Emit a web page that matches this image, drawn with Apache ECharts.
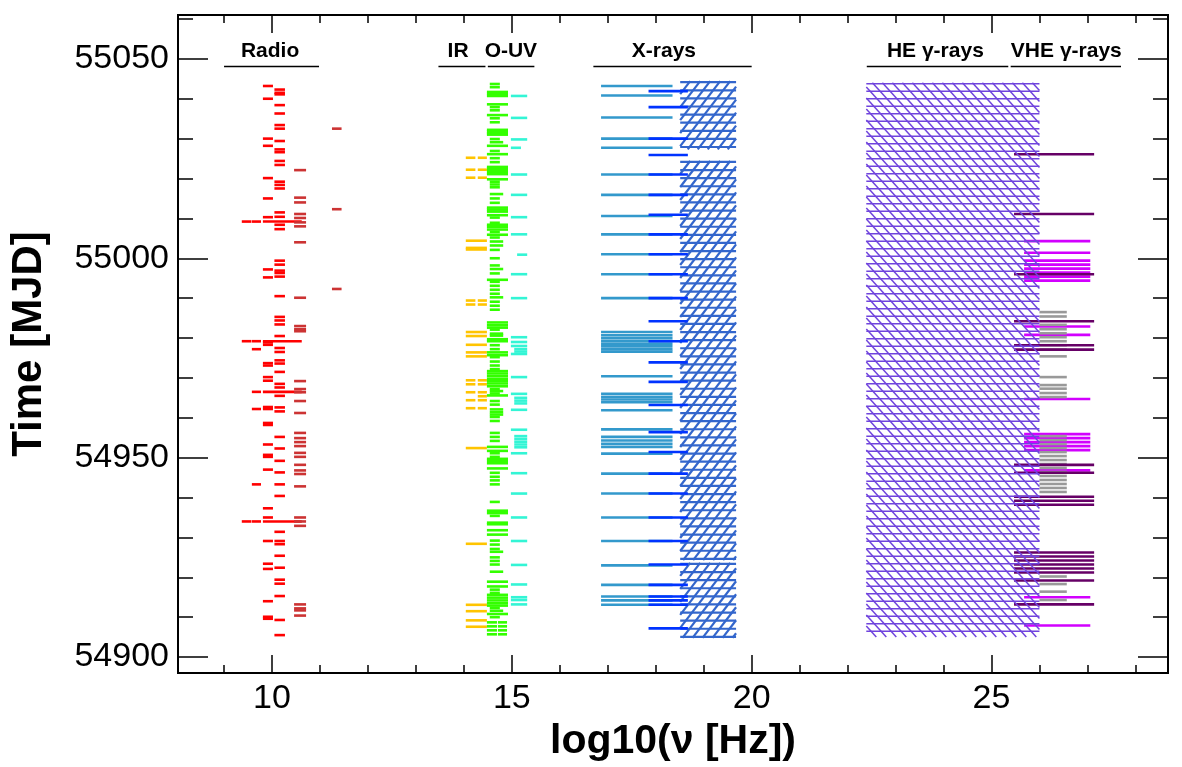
<!DOCTYPE html>
<html>
<head>
<meta charset="utf-8">
<title>MWL time coverage</title>
<script src="https://cdn.jsdelivr.net/npm/echarts@6/dist/echarts.min.js"></script>
<style>
  html, body { margin: 0; padding: 0; background: #fff; }
  #chart { width: 1182px; height: 767px; }
</style>
</head>
<body>
<div id="chart"></div>
<script>
// axis ranges and ticks
const X_MIN = 8.04, X_MAX = 28.68;
const Y_MIN = 54896, Y_MAX = 55061;
const X_MAJOR = [10, 15, 20, 25];
const X_MINOR = [9, 11, 12, 13, 14, 16, 17, 18, 19, 21, 22, 23, 24, 26, 27, 28];
const Y_MAJOR = [54900, 54950, 55000, 55050];
const Y_MINOR = [54910, 54920, 54930, 54940, 54960, 54970, 54980, 54990,
                 55010, 55020, 55030, 55040, 55060];

// band labels over the plot (log10 nu)
const BAND_NAMES = ['Radio', 'IR', 'O-UV', 'X-rays', 'HE γ-rays', 'VHE γ-rays'];
const BAND_FROM  = [9.0, 13.47, 14.5, 16.7, 22.4, 25.4];
const BAND_TO    = [10.98, 14.45, 15.47, 20.0, 25.35, 27.7];
const BAND_TEXT  = [9.96, 13.88, 14.98, 18.17, 23.83, 26.56];
const LABEL_MJD = 55048.1;

// frequency coverage of each instrument column (log10 nu)
const R_RADIO_A = [9.37, 9.57];
const R_RADIO_B = [9.58, 9.77];
const R_RADIO_C = [9.81, 10.02];
const R_RADIO_D = [10.05, 10.27];
const R_RADIO_LONG = [9.81, 10.62];
const R_RADIO_E = [10.46, 10.71];
const R_RADIO_F = [11.25, 11.45];
const R_IR_L = [14.04, 14.24];
const R_IR_R = [14.29, 14.48];
const R_IR_LONG = [14.04, 14.48];
const R_OPT_SHORT = [14.54, 14.75];
const R_OPT_MID = [14.54, 14.82];
const R_OPT_LONG = [14.48, 14.92];
const R_OPT_DL = [14.48, 14.69];
const R_OPT_DR = [14.71, 14.90];
const R_UV = [14.98, 15.32];
const R_UV_BLOCK = [15.05, 15.32];
const R_UV_L = [14.98, 15.19];
const R_UV_R = [15.11, 15.32];
const R_XRT = [16.86, 18.35];
const R_XB = [17.85, 18.67];
const R_XHATCH = [18.51, 19.675];
const R_HE = [22.39, 26.0];
const R_VHE_DARK = [25.47, 27.14];
const R_VHE_MAG = [25.68, 27.06];
const R_VHE_GRAY = [26.0, 26.57];

// observation dates (MJD)
const radioA = [55009.2, 54979.2, 54934.0];
const radioB = [55009.2, 54979.2, 54977.2, 54966.5, 54962.2, 54943.3, 54934.0];
const radioC = [55043.2, 55040.0, 55030.0, 55028.2, 55020.1, 55015.0, 55010.3, 54997.2, 54995.2,
  54978.9, 54978.3, 54973.7, 54973.1, 54970.2, 54969.3, 54962.7, 54962.2, 54958.7, 54958.2,
  54953.3, 54950.7, 54950.2, 54947.0, 54937.3, 54935.0, 54929.1, 54923.4, 54922.1, 54914.0,
  54910.1, 54909.6];
const radioD = [55042.3, 55041.5, 55041.1, 55038.4, 55036.3, 55033.4, 55032.5, 55029.4, 55027.3,
  55026.6, 55024.4, 55023.4, 55019.2, 55018.4, 55017.5, 55011.5, 55010.4, 55008.4, 55007.3,
  54999.4, 54998.4, 54996.9, 54996.3, 54995.4, 54990.5, 54985.3, 54984.4, 54983.4, 54980.5,
  54977.5, 54976.5, 54974.4, 54973.6, 54971.5, 54968.5, 54967.6, 54965.5, 54962.6, 54961.6,
  54955.2, 54952.3, 54949.2, 54946.3, 54943.3, 54940.4, 54931.4, 54929.1, 54928.3, 54925.4,
  54922.4, 54919.4, 54918.4, 54915.3, 54909.3, 54905.5];
const radioLong = [55009.2, 54979.2, 54966.5, 54934.0];
const radioE = [55022.1, 55015.2, 55014.0, 55011.1, 55010.1, 55009.0, 55008.0, 55004.0, 54990.1,
  54983.0, 54982.2, 54981.7, 54969.2, 54967.2, 54966.4, 54964.2, 54961.2, 54956.2, 54954.9,
  54953.9, 54952.9, 54951.2, 54950.2, 54948.2, 54946.8, 54945.9, 54942.8, 54935.0, 54934.0,
  54932.9, 54913.2, 54912.2, 54911.7, 54910.4];
const radioF = [55032.5, 55012.3, 54992.3];

const irSplit = [55025.2, 55022.2, 55020.2, 54989.4, 54988.4, 54969.4, 54968.4, 54966.4, 54964.4, 54962.4];
const irRight = [54965.4];
const irLong = [55004.4, 55002.6, 55002.2, 54981.5, 54980.5, 54978.3, 54976.4, 54975.4, 54952.4,
  54928.4, 54913.1, 54911.5, 54909.2, 54907.6];

const optShort = [55043.7, 55042.9, 55037.9, 55037.1, 55035.1, 55034.1, 55029.9, 55026.9, 55025.1,
  55024.1, 55019.2, 55018.5, 55017.8, 55015.0, 55013.9, 55010.2, 55008.9, 55006.6, 55005.2,
  55002.1, 55000.0, 54998.2, 54996.2, 54994.1, 54993.1, 54992.1, 54991.1, 54989.1, 54988.1,
  54987.1, 54982.1, 54978.2, 54977.2, 54975.2, 54974.1, 54973.1, 54972.2, 54967.2, 54966.1,
  54964.2, 54963.3, 54960.2, 54959.2, 54956.2, 54955.2, 54954.2, 54951.1, 54950.2, 54946.2,
  54945.2, 54944.3, 54943.3, 54938.9, 54935.4, 54929.2, 54928.2, 54927.1, 54925.0, 54924.1,
  54923.2, 54916.9, 54916.1, 54912.3, 54910.0];
const optMid = [55029.1, 55016.1, 55004.2, 55003.2, 54997.3, 54990.2, 54981.1, 54980.6, 54966.7,
  54962.1, 54961.4, 54960.8, 54926.4, 54921.4, 54911.6];
const optLong = [55041.7, 55041.2, 55040.7, 55038.6, 55035.9, 55032.2, 55031.8, 55031.4, 55031.0,
  55028.2, 55026.1, 55022.9, 55022.5, 55022.1, 55021.6, 55021.1, 55019.8, 55012.7, 55012.2,
  55011.7, 55010.8, 55008.4, 55007.9, 55007.2, 55005.9, 54994.6, 54983.9, 54983.2, 54982.6,
  54979.7, 54979.2, 54976.4, 54975.7, 54971.7, 54971.1, 54970.4, 54969.7, 54969.2, 54968.6,
  54967.9, 54965.6, 54952.7, 54951.7, 54949.7, 54949.2, 54948.6, 54947.3, 54936.7, 54936.1,
  54933.7, 54933.3, 54931.8, 54930.7, 54918.9, 54917.7, 54915.6, 54914.9, 54914.2, 54913.5,
  54912.9, 54910.8];
const optDouble = [54908.7, 54907.7, 54906.7, 54905.7];

const uvWide = [55040.7, 55035.2, 55029.8, 55021.0, 55015.9, 55010.3, 55006.0, 54996.0, 54990.0,
  54980.2, 54979.0, 54978.0, 54976.0, 54970.2, 54966.0, 54962.0, 54957.0, 54951.1, 54946.1,
  54941.0, 54935.0, 54929.1, 54923.1, 54918.2, 54915.0, 54914.3, 54913.2];
const uvBlock = [54977.2, 54976.6, 54965.0, 54964.3, 54963.6, 54955.4, 54954.7, 54954.0, 54953.3, 54952.6];
const uvLeft = [55027.7];
const uvRight = [55000.9];

const xrtDates = [55043.2, 55040.8, 55035.3, 55030.0, 55027.7, 55021.0, 55015.9, 55010.6, 55006.0,
  55001.0, 54996.0, 54990.0, 54981.5, 54980.7, 54980.0, 54979.3, 54978.6, 54977.9, 54977.2,
  54976.6, 54970.4, 54966.0, 54965.2, 54964.6, 54963.9, 54961.9, 54957.1, 54955.2, 54954.3,
  54953.5, 54952.7, 54951.0, 54946.0, 54941.0, 54935.0, 54929.1, 54923.0, 54918.1, 54915.2,
  54914.2, 54913.1];
const xBlueDates = [55041.9, 55037.9, 55030.0, 55025.9, 55021.0, 55015.9, 55010.9, 55006.0, 55001.0,
  54996.0, 54990.0, 54984.2, 54979.2, 54973.9, 54969.0, 54963.2, 54956.4, 54951.4, 54946.0,
  54941.0, 54935.0, 54929.1, 54923.2, 54918.1, 54915.2, 54914.2, 54913.1, 54907.2];
// continuous monitoring intervals [start, end]
const xMonitorStart = [55044.4, 55024.4, 54923.6];
const xMonitorEnd   = [55027.3, 54924.3, 54904.8];
const heStart = [55044.0];
const heEnd   = [54905.0];

const vheDark = [55026.1, 55011.1, 54996.0, 54984.2, 54978.2, 54977.1, 54948.2, 54946.2, 54940.2,
  54939.2, 54938.2, 54926.2, 54925.2, 54924.2, 54923.2, 54922.2, 54921.2, 54919.2, 54913.2];
const vheMagenta = [55004.3, 55001.4, 54999.4, 54998.4, 54997.4, 54996.4, 54995.4, 54994.4, 54982.9,
  54980.8, 54964.7, 54955.9, 54954.9, 54953.9, 54952.9, 54951.9, 54946.8, 54915.0, 54907.9];
const vheGray = [54986.5, 54985.4, 54983.3, 54982.2, 54981.2, 54980.2, 54979.2, 54978.2, 54977.1,
  54975.4, 54970.2, 54968.2, 54967.3, 54966.2, 54965.2, 54955.4, 54954.4, 54953.4, 54952.4,
  54951.4, 54950.4, 54949.4, 54948.4, 54947.4, 54946.4, 54945.4, 54944.4, 54943.4, 54942.4,
  54941.4, 54920.2, 54918.3, 54916.4, 54914.3];

const FONT = '"Liberation Sans", Arial, Helvetica, sans-serif';

// clip a segment to a rectangle (Liang-Barsky)
function clipSeg(x0, y0, x1, y1, L, T, R, B) {
  let t0 = 0, t1 = 1;
  const dx = x1 - x0, dy = y1 - y0;
  const p = [-dx, dx, -dy, dy];
  const q = [x0 - L, R - x0, y0 - T, B - y0];
  for (let i = 0; i < 4; i++) {
    if (p[i] === 0) {
      if (q[i] < 0) return null;
    } else {
      const r = q[i] / p[i];
      if (p[i] < 0) { if (r > t1) return null; if (r > t0) t0 = r; }
      else { if (r < t0) return null; if (r < t1) t1 = r; }
    }
  }
  return [x0 + t0 * dx, y0 + t0 * dy, x0 + t1 * dx, y0 + t1 * dy];
}

function barSeries(range, dates, color) {
  return {
    type: 'custom',
    silent: true,
    animation: false,
    encode: { x: [0, 1], y: 2 },
    data: dates.map(t => [range[0], range[1], t]),
    renderItem: function (params, api) {
      const p = api.coord([api.value(0), api.value(2)]);
      const q = api.coord([api.value(1), api.value(2)]);
      return {
        type: 'rect',
        shape: { x: p[0], y: p[1] - 1.3, width: q[0] - p[0], height: 2.6 },
        style: { fill: color }
      };
    }
  };
}

// hatched box: horizontal lines + diagonals (dir 1 = '/', -1 = '\')
function hatchSeries(range, starts, ends, color, lw, hStep, dStep, slope, dir) {
  return {
    type: 'custom',
    silent: true,
    animation: false,
    encode: { x: [0, 1], y: [2, 3] },
    data: starts.map((s, i) => [range[0], range[1], s, ends[i]]),
    renderItem: function (params, api) {
      const a = api.coord([api.value(0), api.value(2)]);
      const b = api.coord([api.value(1), api.value(3)]);
      const L = Math.min(a[0], b[0]), R = Math.max(a[0], b[0]);
      const T = Math.min(a[1], b[1]), B = Math.max(a[1], b[1]);
      const kids = [];
      const line = (x1, y1, x2, y2) => kids.push({
        type: 'line', shape: { x1: x1, y1: y1, x2: x2, y2: y2 },
        style: { stroke: color, lineWidth: lw }
      });
      for (let y = T + 1; y <= B; y += hStep) line(L, y, R, y);
      const run = (B - T) / slope;
      for (let c = L - run; c <= R; c += dStep) {
        const s = dir > 0 ? clipSeg(c, B, c + run, T, L, T, R, B)
                          : clipSeg(c, T, c + run, B, L, T, R, B);
        if (s) line(s[0], s[1], s[2], s[3]);
      }
      return { type: 'group', children: kids };
    }
  };
}

const labelSeries = {
  type: 'custom',
  silent: true,
  animation: false,
  encode: { x: [0, 1] },
  data: BAND_NAMES.map((n, i) => [BAND_FROM[i], BAND_TO[i], BAND_TEXT[i]]),
  renderItem: function (params, api) {
    const p = api.coord([api.value(0), LABEL_MJD]);
    const q = api.coord([api.value(1), LABEL_MJD]);
    const c = api.coord([api.value(2), LABEL_MJD]);
    return {
      type: 'group',
      children: [
        { type: 'line', shape: { x1: p[0], y1: p[1], x2: q[0], y2: q[1] },
          style: { stroke: '#000', lineWidth: 1.5 } },
        { type: 'text', x: c[0], y: p[1] - 15,
          style: { text: BAND_NAMES[params.dataIndex], fill: '#000',
                   font: 'bold 21px ' + FONT,
                   align: 'center', verticalAlign: 'middle',
                   textAlign: 'center', textVerticalAlign: 'middle' } }
      ]
    };
  }
};

const plain = v => String(v);

function xAxisDef(pos, ticks, len, withLabel) {
  return {
    type: 'value', position: pos, min: X_MIN, max: X_MAX,
    axisLine: { show: true, lineStyle: { color: '#000', width: 2 } },
    axisTick: { show: true, inside: true, length: len, customValues: ticks,
                lineStyle: { color: '#000', width: 1.5 } },
    axisLabel: withLabel
      ? { show: true, customValues: ticks, formatter: plain, color: '#000',
          fontSize: 34, fontFamily: FONT, margin: 9 }
      : { show: false },
    splitLine: { show: false }
  };
}
function yAxisDef(pos, ticks, len, withLabel) {
  return {
    type: 'value', position: pos, min: Y_MIN, max: Y_MAX,
    axisLine: { show: true, lineStyle: { color: '#000', width: 2 } },
    axisTick: { show: true, inside: true, length: len, customValues: ticks,
                lineStyle: { color: '#000', width: 1.5 } },
    axisLabel: withLabel
      ? { show: true, customValues: ticks, formatter: plain, color: '#000',
          fontSize: 34, fontFamily: FONT, margin: 9 }
      : { show: false },
    splitLine: { show: false }
  };
}

const xMain = xAxisDef('bottom', X_MAJOR, 18, true);
xMain.name = 'log10(ν [Hz])';
xMain.nameLocation = 'middle';
xMain.nameGap = 42;
xMain.nameTextStyle = { fontSize: 41, fontWeight: 'bold', color: '#000', fontFamily: FONT };

const yMain = yAxisDef('left', Y_MAJOR, 30, true);
yMain.name = 'Time [MJD]';
yMain.nameLocation = 'middle';
yMain.nameGap = 128;
yMain.nameRotate = 90;
yMain.nameTextStyle = { fontSize: 42, fontWeight: 'bold', color: '#000', fontFamily: FONT };

const chart = echarts.init(document.getElementById('chart'), null, { renderer: 'canvas' });
chart.setOption({
  backgroundColor: '#fff',
  animation: false,
  grid: { left: 177, right: 14, top: 15, bottom: 94, containLabel: false },
  xAxis: [
    xMain,
    xAxisDef('bottom', X_MINOR, 8, false),
    xAxisDef('top', X_MAJOR, 18, false),
    xAxisDef('top', X_MINOR, 8, false)
  ],
  yAxis: [
    yMain,
    yAxisDef('left', Y_MINOR, 15, false),
    yAxisDef('right', Y_MAJOR, 30, false),
    yAxisDef('right', Y_MINOR, 15, false)
  ],
  series: [
    barSeries(R_RADIO_A, radioA, '#ff0000'),
    barSeries(R_RADIO_B, radioB, '#ff0000'),
    barSeries(R_RADIO_C, radioC, '#ff0000'),
    barSeries(R_RADIO_D, radioD, '#ff0000'),
    barSeries(R_RADIO_LONG, radioLong, '#ff0000'),
    barSeries(R_RADIO_E, radioE, '#cc3333'),
    barSeries(R_RADIO_F, radioF, '#cc3333'),
    barSeries(R_IR_L, irSplit, '#ffc400'),
    barSeries(R_IR_R, irSplit, '#ffc400'),
    barSeries(R_IR_R, irRight, '#ffc400'),
    barSeries(R_IR_LONG, irLong, '#ffc400'),
    barSeries(R_OPT_SHORT, optShort, '#33ff00'),
    barSeries(R_OPT_MID, optMid, '#33ff00'),
    barSeries(R_OPT_LONG, optLong, '#33ff00'),
    barSeries(R_OPT_DL, optDouble, '#33ff00'),
    barSeries(R_OPT_DR, optDouble, '#33ff00'),
    barSeries(R_UV, uvWide, '#33f5d5'),
    barSeries(R_UV_BLOCK, uvBlock, '#33f5d5'),
    barSeries(R_UV_L, uvLeft, '#33f5d5'),
    barSeries(R_UV_R, uvRight, '#33f5d5'),
    barSeries(R_XRT, xrtDates, '#3399cc'),
    hatchSeries(R_XHATCH, xMonitorStart, xMonitorEnd, '#3366cc', 2.2, 8.1, 10, 1.3, 1),
    barSeries(R_XB, xBlueDates, '#0033ff'),
    barSeries(R_VHE_MAG, vheMagenta, '#d200ff'),
    barSeries(R_VHE_GRAY, vheGray, '#999999'),
    barSeries(R_VHE_DARK, vheDark, '#660066'),
    hatchSeries(R_HE, heStart, heEnd, '#7044dd', 1.5, 7.5, 10, 1.1, -1),
    labelSeries
  ]
});
</script>
</body>
</html>
